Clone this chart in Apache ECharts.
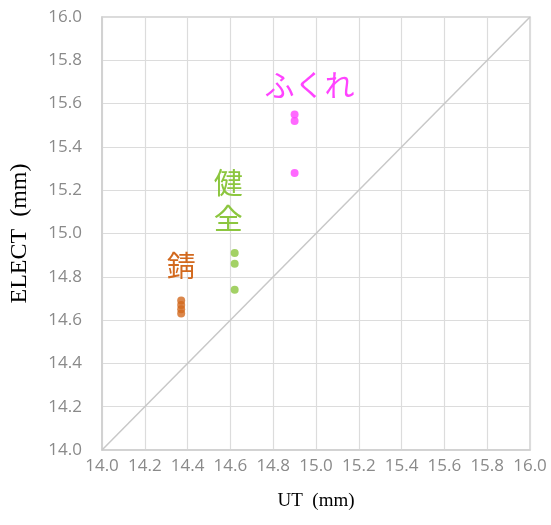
<!DOCTYPE html>
<html><head><meta charset="utf-8">
<script src="https://cdn.jsdelivr.net/npm/echarts@6/dist/echarts.min.js"></script>
<style>html,body{margin:0;padding:0;background:#fff}#c{width:551px;height:525px}</style>
</head><body><div id="c"></div>
<script>
const sabiX = [14.37, 14.37, 14.37, 14.37];
const sabiY = [14.69, 14.67, 14.65, 14.63];
const kenzenX = [14.62, 14.62, 14.62];
const kenzenY = [14.91, 14.86, 14.74];
const fukureX = [14.90, 14.90, 14.90];
const fukureY = [15.55, 15.52, 15.28];
const diagX = [14.0, 16.0];
const diagY = [14.0, 16.0];

const zip = (a, b) => a.map((v, i) => [v, b[i]]);
const chart = echarts.init(document.getElementById('c'));
const axisCommon = {
  min: 14, max: 16, interval: 0.2,
  axisLine: {show: true, lineStyle: {color: '#cfcfcf', width: 1.5}},
  axisTick: {show: false},
  splitLine: {show: true, lineStyle: {color: '#dcdcdc', width: 1.2}},
  axisLabel: {color: '#8a8a8a', fontSize: 17, fontFamily: 'Open Sans', formatter: v => v.toFixed(1)},
  nameLocation: 'middle',
  nameTextStyle: {color: '#000', fontSize: 19, fontFamily: 'Liberation Serif'}
};
chart.setOption({
  animation: false,
  grid: {left: 100, right: 21, top: 17, bottom: 75, show: true, borderColor: '#cfcfcf', borderWidth: 1.5},
  xAxis: Object.assign({}, axisCommon, {type: 'value', name: 'UT  (mm)', nameGap: 42,
    axisLabel: Object.assign({}, axisCommon.axisLabel, {margin: 8})}),
  yAxis: Object.assign({}, axisCommon, {type: 'value', name: 'ELECT  (mm)', nameGap: 70,
    nameTextStyle: {color: '#000', fontSize: 24, fontFamily: 'Liberation Serif'},
    axisLabel: Object.assign({}, axisCommon.axisLabel, {margin: 20})}),
  series: [
    {type: 'line', data: zip(diagX, diagY), symbol: 'none', lineStyle: {color: '#c8c8c8', width: 1.5}, silent: true},
    {type: 'scatter', data: zip(sabiX, sabiY), symbolSize: 8, itemStyle: {color: '#d2691e'},
     markPoint: {symbol: 'circle', symbolSize: 0, data: [{coord: [14.37, 14.85], value: '錆'}],
       label: {show: true, formatter: '錆', color: '#d2691e', fontSize: 29, fontFamily: 'Noto Sans CJK JP', position: 'inside'}}},
    {type: 'scatter', data: zip(kenzenX, kenzenY), symbolSize: 8, itemStyle: {color: '#8cc63f'},
     markPoint: {symbol: 'circle', symbolSize: 0, data: [{coord: [14.59, 15.15], value: '健全'}],
       label: {show: true, formatter: '健\n全', color: '#8cc63f', fontSize: 29, lineHeight: 36, fontFamily: 'Noto Sans CJK JP', position: 'inside'}}},
    {type: 'scatter', data: zip(fukureX, fukureY), symbolSize: 8, itemStyle: {color: '#ff44ff'},
     markPoint: {symbol: 'circle', symbolSize: 0, data: [{coord: [14.97, 15.69], value: 'ふくれ'}],
       label: {show: true, formatter: 'ふくれ', color: '#ff44ff', fontSize: 30, fontFamily: 'Noto Sans CJK JP', position: 'inside'}}}
  ]
});
</script></body></html>
